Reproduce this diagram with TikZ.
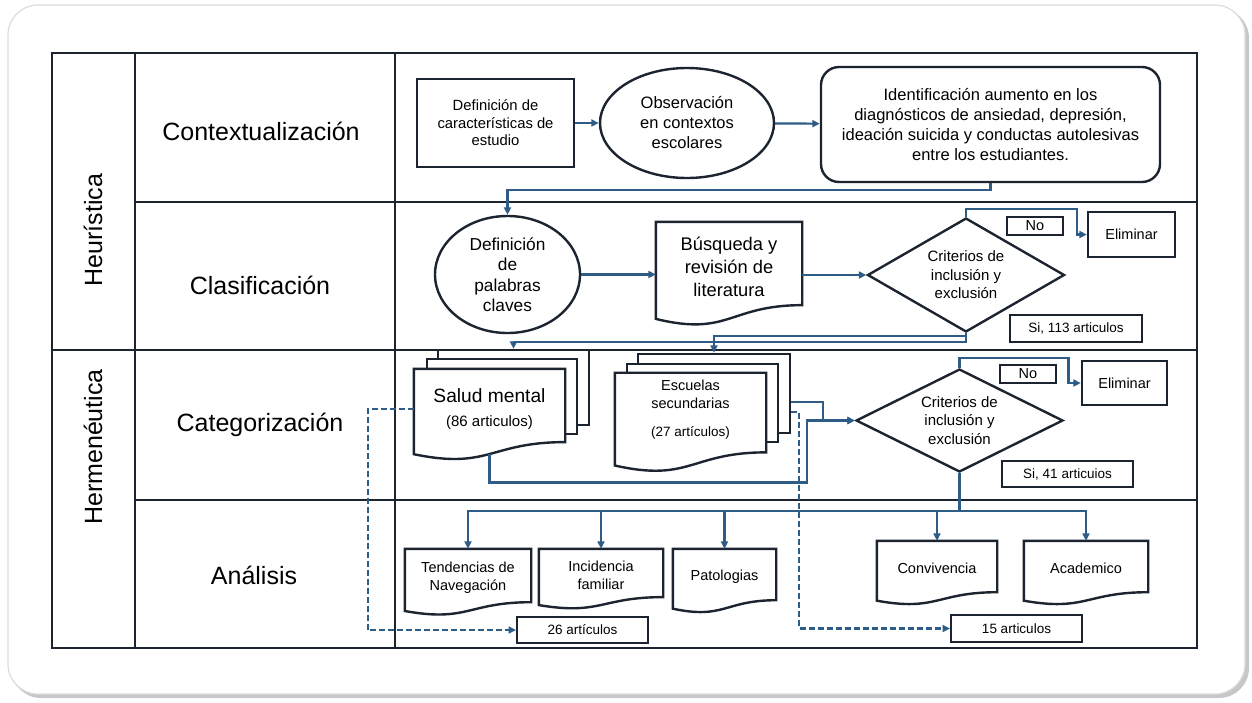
\documentclass[tikz,border=0pt]{standalone}
\usepackage{fontspec}
\setmainfont{Liberation Sans}
\usetikzlibrary{shapes.geometric, arrows.meta, calc}
\definecolor{ink}{HTML}{1C2430}
\definecolor{flow}{HTML}{2D5C87}
\definecolor{rim}{HTML}{DCDCDC}
\pgfdeclarelayer{bg}
\pgfsetlayers{bg,main}
\newcommand\fs[2]{\fontsize{#1}{#2}\selectfont}
% wavy outline of a document node
\newcommand\docline[1]{%
  \draw[shapeline, fill=white] (#1.north west) -- (#1.north east)
    -- ($(#1.north east)!0.922!(#1.south east)$)
    .. controls ($(#1.north)!0.922!(#1.south)$) and ($(#1.north)!1.272!(#1.south)$)
    .. ($(#1.north west)!1.074!(#1.south west)$) -- cycle;}
\tikzset{
  shapeline/.style={draw=ink, line width=2.4pt},
  box/.style={shapeline, rectangle, fill=white, inner sep=0pt, align=center},
  tag/.style={draw=ink, line width=2pt, rectangle, fill=white, inner sep=0pt, font=\fs{13.5}{16}},
  doc/.style={rectangle, inner sep=0pt, align=center, font=\fs{14.5}{18}},
  layerbox/.style={shapeline, rectangle, fill=white, inner sep=0pt},
  oval/.style={shapeline, ellipse, fill=white, inner sep=0pt, align=center},
  crit/.style={shapeline, diamond, aspect=1.8, fill=white, inner sep=0pt, align=center, font=\fs{15}{18.5}},
  link/.style={draw=flow, line width=2.2pt, -{Triangle[length=7.5pt,width=7pt]}},
  flowline/.style={draw=flow, line width=2.2pt},
  dlink/.style={link, dash pattern=on 6pt off 3pt},
  tableline/.style={draw=ink, line width=2.2pt},
  phase/.style={font=\fs{25}{30}},
}
\begin{document}
\begin{tikzpicture}[x=1pt, y=-1pt]
  \useasboundingbox (0,0) rectangle (1252,702);
  % Frame and table
  \begin{pgfonlayer}{bg}
    \fill[black!22, rounded corners=30pt] (11,8) rectangle (1249,698);
    \draw[rim, fill=white, line width=1.2pt, rounded corners=30pt] (8,5) rectangle (1245,694);
    \draw[tableline] (52,53) rectangle (1197,648);
    \draw[tableline] (135,53) -- (135,648);
    \draw[tableline] (395,53) -- (395,648);
    \draw[tableline] (135,202) -- (1197,202);
    \draw[tableline] (52,350) -- (1197,350);
    \draw[tableline] (135,500) -- (1197,500);
  \end{pgfonlayer}
  % Phases
  \node[phase, rotate=90] (heu) at (93,230) {Heurística};
  \node[phase, rotate=90] (her) at (93,447) {Hermenéutica};
  \node[phase] (ctx) at (261,131) {Contextualización};
  \node[phase] (cla) at (260,285) {Clasificación};
  \node[phase] (cat) at (260,425) {Categorización};
  \node[phase] (ana) at (254,575) {Análisis};
  % Contextualización
  \node[box, minimum width=157pt, minimum height=88pt, font=\fs{14.8}{17.5}] (defcar) at (495.5,123) {Definición de\\características de\\estudio};
  \node[oval, minimum width=174pt, minimum height=110pt, font=\fs{16.5}{20}] (obs) at (687,123) {Observación\\en contextos\\escolares};
  \node[box, rounded corners=18pt, minimum width=339pt, minimum height=115pt, font=\fs{16.5}{19.7}] (ident) at (990.5,124.5) {Identificación aumento en los\\diagnósticos de ansiedad, depresión,\\ideación suicida y conductas autolesivas\\entre los estudiantes.};
  % Clasificación
  \node[oval, minimum width=145pt, minimum height=117pt, font=\fs{17.3}{20.5}] (pal) at (507.5,274.5) {Definición\\de\\palabras\\claves};
  \node[doc, minimum width=146pt, minimum height=90pt, font=\fs{18.3}{23}] (bus) at (729,267) {Búsqueda y\\revisión de\\literatura};
  \node[crit, minimum width=197pt, minimum height=114pt] (crit1) at (966,275) {Criterios de\\inclusión y\\exclusión};
  \node[tag, minimum width=56pt, minimum height=18pt, font=\fs{14.5}{17}] (no1) at (1035,226) {No};
  \node[box, minimum width=87pt, minimum height=45pt, font=\fs{14.5}{17}] (elim1) at (1131.5,234.5) {Eliminar};
  \node[tag, minimum width=132pt, minimum height=27pt] (si1) at (1076,328.5) {Si, 113 articulos};
  % Categorización
  \node[doc, minimum width=151pt, minimum height=79pt, font=\fs{19.2}{24}] (sm) at (489.5,408.6) {Salud mental\\{\fs{15}{24}(86 articulos)}};
  \node[doc, minimum width=151pt, minimum height=86pt, text depth=15pt] (es) at (690.5,415.9) {Escuelas\\secundarias\\[10pt]{\fs{13.5}{18}(27 artículos)}};
  \begin{pgfonlayer}{bg}
    \node[layerbox, minimum width=151pt, minimum height=75pt] (sm3) at (513.5,387.5) {};
    \node[layerbox, minimum width=150pt, minimum height=75pt] (sm2) at (502,396.5) {};
    \docline{sm}
    \node[layerbox, minimum width=152pt, minimum height=79pt] (es3) at (714,393.5) {};
    \node[layerbox, minimum width=151pt, minimum height=78pt] (es2) at (702.5,403) {};
    \docline{es}
  \end{pgfonlayer}
  \node[crit, minimum width=207pt, minimum height=103pt] (crit2) at (959.5,420.5) {Criterios de\\inclusión y\\exclusión};
  \node[tag, minimum width=56pt, minimum height=18pt, font=\fs{14.5}{17}] (no2) at (1028,374) {No};
  \node[box, minimum width=85pt, minimum height=44pt, font=\fs{14.5}{17}] (elim2) at (1124.5,383) {Eliminar};
  \node[tag, minimum width=131pt, minimum height=26pt] (si2) at (1067.5,474) {Si, 41 articuios};
  % Análisis
  \node[doc, minimum width=126pt, minimum height=57.5pt] (tend) at (468,577.75) {Tendencias de\\Navegación};
  \node[doc, minimum width=124pt, minimum height=52pt] (inc) at (601,575) {Incidencia\\familiar};
  \node[doc, minimum width=103pt, minimum height=55.3pt] (pat) at (724.5,576.7) {Patologias};
  \node[doc, minimum width=120pt, minimum height=55.3pt] (conv) at (937,568.7) {Convivencia};
  \node[doc, minimum width=124pt, minimum height=55.3pt] (acad) at (1086,568.7) {Academico};
  \node[tag, minimum width=131pt, minimum height=26pt] (n26) at (582.5,630) {26 artículos};
  \node[tag, minimum width=131pt, minimum height=27pt] (n15) at (1016.5,628.5) {15 articulos};
  \begin{pgfonlayer}{bg}
    \foreach \d in {bus,tend,inc,pat,conv,acad} {\docline{\d}}
  \end{pgfonlayer}
  % Arrows
  \draw[link] (defcar) -- (obs);
  \draw[link] (obs) -- (ident);
  \draw[link] (ident.south) -- ++(0,7) -| (pal.north);
  \draw[link] (pal.east) -- (pal.east -| bus.west);
  \draw[link] (bus.east |- crit1.west) -- (crit1.west);
  \draw[link] (crit1.north) -- ++(0,-8) -- ++(111,0) |- (elim1.west);
  \draw[link] (crit1.south) -- ++(0,9) -| (sm3.north);
  \draw[link] (crit1.south) -- ++(0,3) -| (es3.north);
  \draw[link] ($(es3.east)+(0,8.5)$) -| ($(crit2.west)+(-32,0)$) -- (crit2.west);
  \draw[link] ($(sm.south)+(0,6)$) |- ($(crit2.west)+(-48,62)$) |- (crit2.west);
  \draw[link] (crit2.north) -- ++(0,-10) -- ++(109,0) |- (elim2.west);
  \draw[flowline] (crit2.south) -- ++(0,38) coordinate (split);
  \foreach \t in {tend,inc,pat,conv,acad} {\draw[link] (split) -| (\t.north);}
  % Dashed lines
  \draw[dlink] (sm.west) -- ++(-46,0) |- (n26.west);
  \draw[dlink] ($(es3.east)+(0,18.5)$) -- ++(8,0) |- (n15.west);
\end{tikzpicture}
\end{document}
